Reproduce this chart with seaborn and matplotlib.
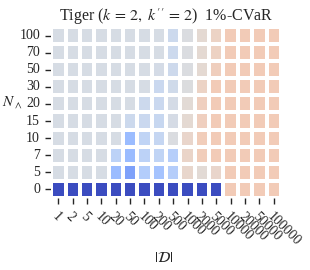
import numpy as np
import pandas as pd
import seaborn as sns
import matplotlib
matplotlib.use("Agg")
import matplotlib.pyplot as plt

# dataset sizes |D| (columns) and N_wedge values (rows, top to bottom)
dataset_sizes = ["1", "2", "5", "10", "20", "50", "100", "200", "500",
                 "1000", "2000", "5000", "10000", "20000", "50000", "100000"]
n_wedge = ["100", "70", "50", "30", "20", "15", "10", "7", "5", "0"]

g = -0.05  # roughly neutral cells
row_100 = [g, g, g, g, g, g, g, g, -0.12, -0.02, 0.06, 0.13, 0.2, 0.2, 0.2, 0.2]
row_70 = [g, g, g, g, g, g, g, g, -0.12, -0.02, 0.06, 0.14, 0.2, 0.2, 0.2, 0.2]
row_50 = [g, g, g, g, g, g, g, -0.07, -0.11, -0.02, 0.06, 0.17, 0.2, 0.2, 0.2, 0.2]
row_30 = [g, g, g, g, g, g, g, -0.14, -0.10, -0.01, 0.13, 0.2, 0.2, 0.2, 0.2, 0.2]
row_20 = [g, g, g, g, g, g, -0.12, -0.14, -0.07, 0.04, 0.16, 0.2, 0.2, 0.2, 0.2, 0.2]
row_15 = [g, g, g, g, g, -0.12, -0.14, -0.15, -0.06, 0.06, 0.16, 0.2, 0.2, 0.2, 0.2, 0.2]
row_10 = [g, g, g, g, g, -0.42, -0.2, -0.17, -0.02, 0.1, 0.18, 0.2, 0.2, 0.2, 0.2, 0.2]
row_7 = [g, g, g, g, -0.22, -0.42, -0.22, -0.2, -0.26, 0.11, 0.18, 0.2, 0.2, 0.2, 0.2, 0.2]
row_5 = [g, g, g, g, -0.42, -0.58, -0.28, -0.36, -0.27, 0.09, 0.04, 0.1, 0.2, 0.2, 0.2, 0.2]
row_0 = [-1.0] * 12 + [0.2, 0.2, 0.2, 0.2]

values = [row_100, row_70, row_50, row_30, row_20, row_15, row_10, row_7, row_5, row_0]
df = pd.DataFrame(values, index=n_wedge, columns=dataset_sizes)

sns.set_theme(style="ticks")
plt.rcParams["font.family"] = ["Liberation Serif", "DejaVu Serif"]
plt.rcParams["mathtext.fontset"] = "stix"

fig = plt.figure(figsize=(3.1, 2.7), dpi=100)
ax = fig.add_axes([0.165, 0.267, 0.741, 0.633])
sns.heatmap(df, ax=ax, cmap="coolwarm", vmin=-1, vmax=1, cbar=False,
            linewidths=1.5, linecolor="white", square=False,
            xticklabels=True, yticklabels=True)

ax.set_title(r"Tiger ($k\,=\,2,\ k''\,=\,2$)  1%-CVaR", fontsize=11.5, pad=4)
ax.tick_params(axis="y", length=4, width=1.0, labelsize=10, pad=4)
ax.tick_params(axis="x", length=4, width=1.0, labelsize=10, pad=5)
ax.set_yticklabels(n_wedge, rotation=0)
ax.set_xticklabels(dataset_sizes, rotation=-45, ha="left", rotation_mode="anchor")
ax.set_ylabel(r"$N_\wedge$", rotation=0, fontsize=11, labelpad=2)
ax.yaxis.set_label_coords(-0.17, 0.51)
ax.set_xlabel(r"$|\mathcal{D}|$", fontsize=11)
ax.xaxis.set_label_coords(0.49, -0.31)

fig.savefig("out.png", dpi=100)
